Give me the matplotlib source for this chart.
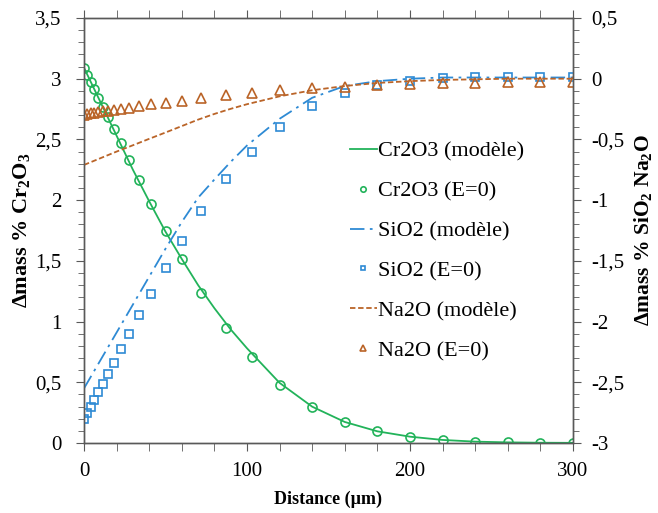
import numpy as np
import matplotlib
matplotlib.use("Agg")
import matplotlib.pyplot as plt
from matplotlib.ticker import MultipleLocator, FuncFormatter

plt.rcParams["font.family"] = ["Liberation Serif", "DejaVu Serif"]
plt.rcParams["mathtext.fontset"] = "custom"
plt.rcParams["mathtext.rm"] = "Liberation Serif"
plt.rcParams["mathtext.bf"] = "Liberation Serif:bold"

# measured points (E=0)
dist_pts = [0, 2, 4, 6, 8.5, 11.5, 15, 18.5, 22.5, 27.5, 33.5, 41, 50, 60, 72, 87,
            103, 120, 140, 160, 180, 200, 220, 240, 260, 280, 300]
cr2o3_pts = [3.09, 3.03, 2.975, 2.915, 2.845, 2.77, 2.683, 2.584, 2.469, 2.331, 2.166,
             1.969, 1.749, 1.515, 1.233, 0.945, 0.708, 0.48, 0.299, 0.173, 0.096,
             0.052, 0.025, 0.011, 0.005, 0.002, 0.001]
sio2_pts = [-2.80, -2.753, -2.70, -2.643, -2.582, -2.511, -2.429, -2.338, -2.228,
            -2.104, -1.948, -1.769, -1.563, -1.34, -1.087, -0.823, -0.60, -0.394,
            -0.227, -0.116, -0.048, -0.015, 0.004, 0.012, 0.018, 0.018, 0.015]
na2o_pts = [-0.295, -0.29, -0.285, -0.28, -0.275, -0.27, -0.265, -0.258, -0.248,
            -0.238, -0.226, -0.212, -0.196, -0.18, -0.16, -0.136, -0.12, -0.097,
            -0.078, -0.067, -0.05, -0.04, -0.034, -0.034, -0.03, -0.028, -0.025]

# model curves
dist_mod = [0, 10, 20, 30, 40, 50, 60, 70, 80, 90, 100, 120, 140, 160, 180, 200,
            220, 240, 260, 280, 300]
cr2o3_mod = [3.09, 2.81, 2.53, 2.25, 1.99, 1.74, 1.515, 1.30, 1.11, 0.935, 0.78,
             0.495, 0.299, 0.173, 0.096, 0.052, 0.025, 0.011, 0.005, 0.002, 0.001]
sio2_mod = [-2.55, -2.32, -2.09, -1.86, -1.63, -1.40, -1.18, -0.98, -0.83, -0.685,
            -0.55, -0.33, -0.157, -0.06, -0.02, 0.0, 0.01, 0.01, 0.01, 0.01, 0.01]
na2o_mod = [-0.71, -0.655, -0.60, -0.548, -0.495, -0.443, -0.39, -0.337, -0.29,
            -0.248, -0.21, -0.145, -0.095, -0.06, -0.035, -0.02, -0.01, -0.005,
            0.0, 0.0, 0.0]

green = "#22B35A"
blue = "#2E8AD4"
brown = "#BA6428"

fig = plt.figure(figsize=(6.58, 5.13), dpi=100)
ax = fig.add_axes([0.1277, 0.1365, 0.743, 0.8284])
ax2 = ax.twinx()

l1, = ax.plot(dist_mod, cr2o3_mod, color=green, lw=1.3, label="Cr2O3 (modèle)")
p1, = ax.plot(dist_pts, cr2o3_pts, ls="none", marker="o", ms=6.5, mfc="none",
              mec=green, mew=1.2, label="Cr2O3 (E=0)")
l2, = ax2.plot(dist_mod, sio2_mod, color=blue, lw=1.3, dashes=(8, 3, 1.5, 3),
               label="SiO2 (modèle)")
p2, = ax2.plot(dist_pts, sio2_pts, ls="none", marker="s", ms=6, mfc="none",
               mec=blue, mew=1.2, label="SiO2 (E=0)")
l3, = ax2.plot(dist_mod, na2o_mod, color=brown, lw=1.3, dashes=(3, 1.5),
               label="Na2O (modèle)")
p3, = ax2.plot(dist_pts, na2o_pts, ls="none", marker="^", ms=6.5, mfc="none",
               mec=brown, mew=1.2, label="Na2O (E=0)")

ax.set_xlim(0, 300)
ax.set_ylim(0, 3.5)
ax2.set_ylim(-3, 0.5)

comma = FuncFormatter(lambda v, p: ("%g" % v).replace(".", ","))
ax.xaxis.set_major_locator(MultipleLocator(100))
ax.xaxis.set_minor_locator(MultipleLocator(20))
ax.yaxis.set_major_locator(MultipleLocator(0.5))
ax.yaxis.set_minor_locator(MultipleLocator(0.1))
ax.yaxis.set_major_formatter(comma)
ax2.yaxis.set_major_locator(MultipleLocator(0.5))
ax2.yaxis.set_minor_locator(MultipleLocator(0.1))
ax2.yaxis.set_major_formatter(comma)

spine_col = "#595959"
for a in (ax, ax2):
    for s in a.spines.values():
        s.set_color(spine_col)
        s.set_linewidth(1.0)
ax.tick_params(axis="x", which="both", direction="out", top=True, bottom=True,
               color=spine_col, labelsize=15, pad=8, length=6)
ax.tick_params(axis="y", which="major", direction="out", length=6,
               color=spine_col, labelsize=15, pad=10)
ax.tick_params(axis="y", which="minor", direction="out", length=4, color=spine_col)
ax2.tick_params(axis="y", which="major", direction="out", length=6,
                color=spine_col, labelsize=15, pad=7)
ax2.tick_params(axis="y", which="minor", direction="out", length=4, color=spine_col)

ax.set_xlabel("Distance (µm)", fontsize=13, fontweight="bold", labelpad=7)
ax.set_ylabel(r"Δmass % Cr$_\mathbf{2}$O$_\mathbf{3}$", fontsize=16,
              fontweight="bold", labelpad=2)
ax2.set_ylabel(r"Δmass % SiO$_\mathbf{2}$ Na$_\mathbf{2}$O", fontsize=15.5,
               fontweight="bold", labelpad=6)

handles = [l1, p1, l2, p2, l3, p3]
fig.legend(handles, [h.get_label() for h in handles], loc="upper left",
           bbox_to_anchor=(350 / 658, 1 - 141 / 513), frameon=False,
           fontsize=16, handlelength=1.2, handletextpad=0.05, labelspacing=0.87,
           markerscale=0.6, borderpad=0, borderaxespad=0)

fig.savefig("out.png", dpi=100)
